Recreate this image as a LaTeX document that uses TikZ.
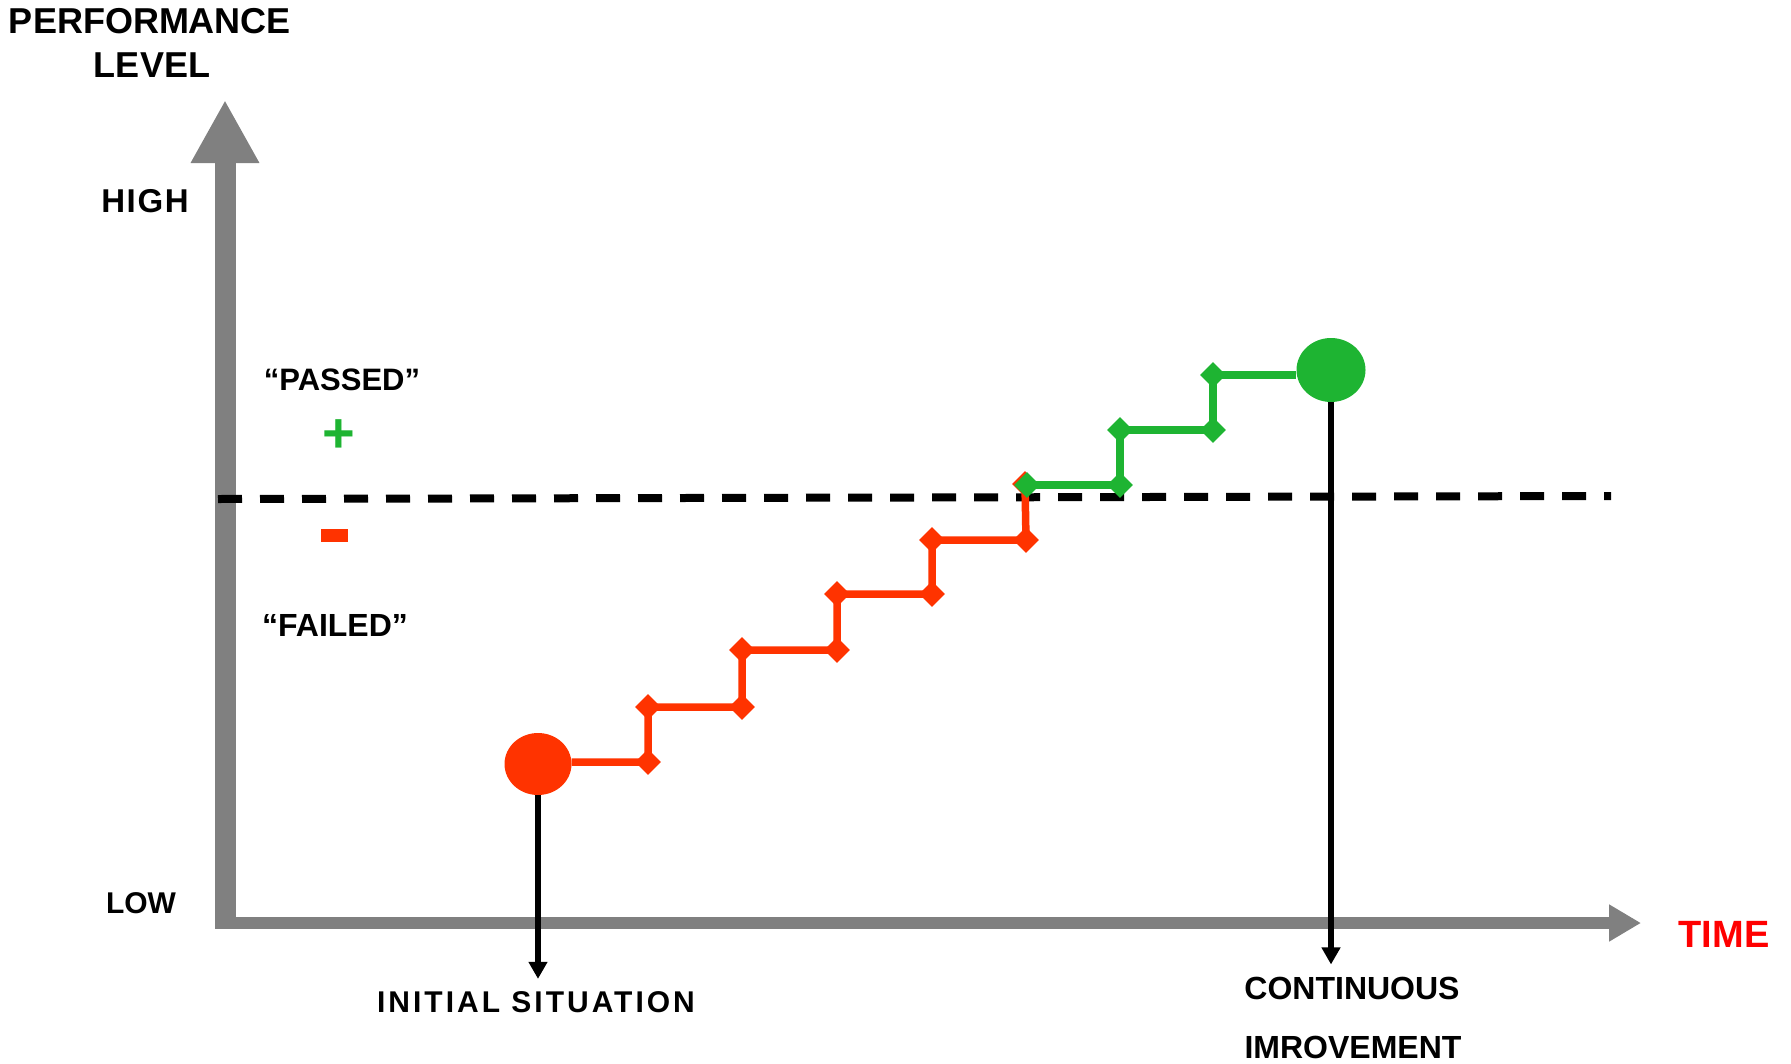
\documentclass[tikz,border=0pt]{standalone}
\usepackage{fontspec}
\setmainfont{Liberation Sans}
\usetikzlibrary{arrows.meta,shapes,positioning}
\definecolor{axisgray}{HTML}{808080}
\definecolor{failred}{HTML}{FF3300}
\definecolor{passgreen}{HTML}{1EB432}
\definecolor{timered}{HTML}{FF0000}
\tikzset{
  lbl/.style      = {font=\bfseries\fontsize{32}{38}\selectfont, inner sep=0, anchor=base},
  biglbl/.style   = {lbl, font=\bfseries\fontsize{36}{40}\selectfont},
  knot/.style     = {diamond, inner sep=0, minimum size=26pt},
  redknot/.style  = {knot, fill=failred},
  greenknot/.style = {knot, fill=passgreen},
  blob/.style     = {ellipse, inner sep=0},
  stepline/.style = {line width=7.5pt},
  pointer/.style  = {line width=6pt, -{Triangle[length=17pt,width=18pt]}},
}

\begin{document}
\begin{tikzpicture}[x=1pt,y=-1pt]
\useasboundingbox (0,0) rectangle (1791,1063);

% axes
\coordinate (origin) at (225,926);
\coordinate (ytop) at (225,100);
\coordinate (xstart) at (215,923);
\coordinate (xend) at (1641,923);
\draw[axisgray, line width=21pt, -{Triangle[length=63pt,width=64pt]}] (origin) -- (ytop);
\draw[axisgray, line width=12pt, -{Triangle[length=32pt,width=35pt]}] (xstart) -- (xend);

% axis texts
\node[biglbl] (perf) at (150,33) {PERFORMANCE};
\node[biglbl] (level) at (152,77) {LEVEL};
\node[lbl, font=\bfseries\fontsize{33}{38}\selectfont\addfontfeature{LetterSpace=5}] (high) at (145,212) {HIGH};
\node[lbl, font=\bfseries\fontsize{30}{36}\selectfont] (low) at (141,913) {LOW};
\node[lbl, text=timered, font=\bfseries\fontsize{38}{44}\selectfont] (time) at (1724,947) {TIME};

% threshold
\coordinate (dl) at (218,499);
\coordinate (dr) at (1611,496);
\draw[line width=8pt, dash pattern=on 24pt off 18pt] (dl) -- (dr);

\node[lbl, font=\bfseries\fontsize{31}{36}\selectfont] (passed) at (342,390) {“PASSED”};
\node[inner sep=0, text=passgreen, font=\bfseries\fontsize{56}{56}\selectfont] (plus) at (339,436) {+};
\node[fill=failred, minimum width=27pt, minimum height=13pt, inner sep=0] (minus) at (334.5,535.5) {};
\node[lbl] (failed) at (335,636) {“FAILED”};

% start and goal
\node[blob, fill=failred, minimum width=67pt, minimum height=62pt] (start) at (538,764) {};
\node[blob, fill=passgreen, minimum width=69pt, minimum height=64pt] (goal) at (1331,370) {};

% red steps
\foreach \i/\x/\y in {1/648/762, 2/648/707, 3/742/707, 4/742/650, 5/837/650,
                      6/837/594, 7/932/594, 8/932/540, 9/1026/540, 10/1025/484}
  \node[redknot] (r\i) at (\x,\y) {};
\draw[stepline, failred] (start.east |- r1.center) -- (r1.center)
  \foreach \i in {2,...,10} { -- (r\i.center) };

% green steps
\foreach \i/\x/\y in {1/1027/485, 2/1120/485, 3/1120/430, 4/1213/430, 5/1213/375}
  \node[greenknot] (g\i) at (\x,\y) {};
\draw[stepline, passgreen] (g1.center)
  \foreach \i in {2,...,5} { -- (g\i.center) } -- (goal.west |- g5.center);

% bottom texts
\node[lbl, font=\bfseries\fontsize{30}{36}\selectfont\addfontfeature{LetterSpace=10}] (init) at (536,1012) {INITIAL SITUATION};
\node[lbl] (cont) at (1352,999) {CONTINUOUS};
\node[lbl] (impr) at (1353,1058) {IMROVEMENT};

\draw[pointer, shorten >=12pt] (start.south) -- (start.south |- init.north);
\draw[pointer, shorten >=12pt] (goal.south) -- (goal.south |- cont.north);

\end{tikzpicture}
\end{document}
